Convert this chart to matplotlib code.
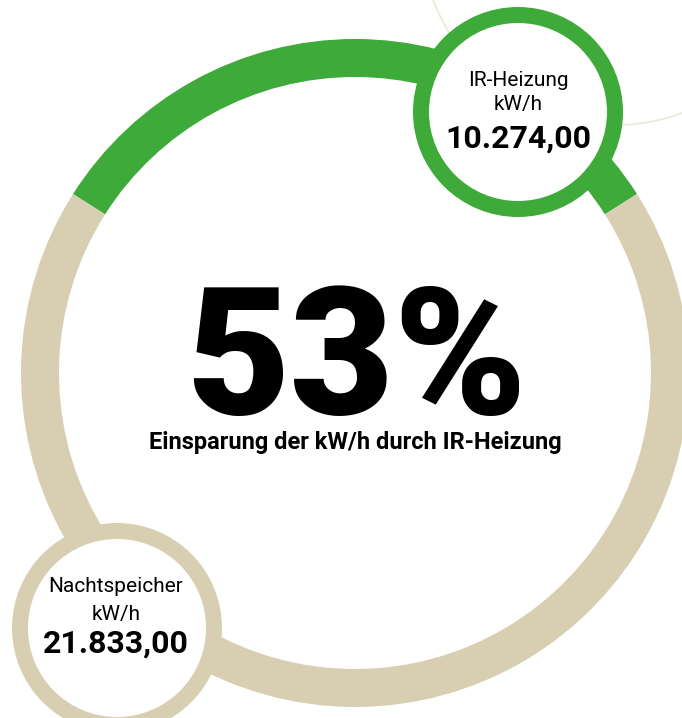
import matplotlib.pyplot as plt
from matplotlib.patches import Circle

plt.rcParams['font.family'] = ['Roboto', 'DejaVu Sans']

# data
labels = ['IR-Heizung', 'Nachtspeicher']
unit = 'kW/h'
values = [10274.00, 21833.00]
value_texts = ['10.274,00', '21.833,00']
savings_text = '53%'
savings_label = 'Einsparung der kW/h durch IR-Heizung'

green = '#3DAA39'
beige = '#D8CFB3'

W, H = 682, 718
fig = plt.figure(figsize=(W / 100, H / 100), dpi=100)
ax = fig.add_axes([0, 0, 1, 1])

# big ring, green part centred at the top
share = values[0] / sum(values)
ax.pie(values, colors=[green, beige], center=(355, H - 373), radius=334,
       startangle=90 - 180 * share, counterclock=True,
       wedgeprops=dict(width=38, linewidth=0))

# thin decorative arc top right
ax.add_patch(Circle((615, H + 70), 195, fill=False, edgecolor='#ECE9DD', lw=1.4, zorder=1))

# small value circles
circles = [(518, H - 112, green), (117, H - 628, beige)]
for cx, cy, col in circles:
    ax.add_patch(Circle((cx, cy), 105, color=col, lw=0, zorder=3))
    ax.add_patch(Circle((cx, cy), 89, color='white', lw=0, zorder=4))

# texts in the small circles (baselines in px)
ax.text(518, H - 86, labels[0], ha='center', va='baseline', fontsize=15, fontweight='normal', zorder=5)
ax.text(518, H - 110, unit, ha='center', va='baseline', fontsize=15, fontweight='normal', zorder=5)
ax.text(518, H - 148, value_texts[0], ha='center', va='baseline', fontsize=23, fontweight='bold', zorder=5)

ax.text(116, H - 592, labels[1], ha='center', va='baseline', fontsize=15, fontweight='normal', zorder=5)
ax.text(116, H - 620, unit, ha='center', va='baseline', fontsize=15, fontweight='normal', zorder=5)
ax.text(116, H - 653, value_texts[1], ha='center', va='baseline', fontsize=23, fontweight='bold', zorder=5)

# centre
ax.text(357, H - 414, savings_text, ha='center', va='baseline', fontsize=129, fontweight='black', zorder=5)
ax.text(355, H - 449, savings_label, ha='center', va='baseline', fontsize=17, fontweight='bold', zorder=5)

ax.set_xlim(0, W)
ax.set_ylim(0, H)
ax.set_aspect('equal')
ax.axis('off')

fig.savefig('out.png', dpi=100)
